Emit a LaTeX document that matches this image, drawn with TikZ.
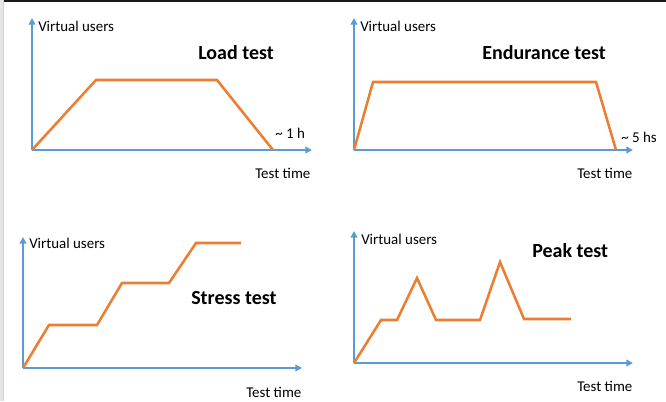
\documentclass[tikz,border=0pt]{standalone}
\usepackage{fontspec}
\setmainfont{Carlito}
\usetikzlibrary{arrows.meta}
\definecolor{axblue}{HTML}{5B9BD5}
\definecolor{curveorange}{HTML}{ED7D31}
\tikzset{
  axis/.style={draw=axblue, line width=1.6pt, -{Triangle[length=5pt,width=5pt]}},
  curve/.style={draw=curveorange, line width=1.9pt, line join=miter},
  lbl/.style={inner sep=0pt, anchor=west, font=\fontsize{11.2}{13}\selectfont},
  ttl/.style={inner sep=0pt, anchor=west, font=\fontsize{15}{18}\selectfont\bfseries},
}
\begin{document}
\begin{tikzpicture}[x=0.75pt,y=-0.75pt]
\useasboundingbox (0,0) rectangle (666,401);
\fill[white] (0,0) rectangle (666,401);
\fill[black!90] (3,0) rectangle (666,2);
\fill[black!10] (0,0) rectangle (3,401);
\draw[black!18, line width=0.5pt] (3,0) -- (3,401);

% ---------- Panel 1: Load test
\coordinate (o1) at (32,150);
\coordinate (y1) at (32,18);
\coordinate (x1) at (312,150);
\draw[axis] (o1) -- (y1);
\draw[axis] (o1) -- (x1);
\draw[curve] (o1) -- (96,80) -- (217,80) -- (273,150);
\node[lbl] (vu1) at (38,26) {Virtual users};
\node[ttl] (t1) at (198,53) {Load test};
\node[lbl] (d1) at (275,133) {\textasciitilde\ 1 h};
\node[lbl] (tt1) at (255,173) {Test time};

% ---------- Panel 2: Endurance test
\coordinate (o2) at (354,150);
\coordinate (y2) at (354,18);
\coordinate (x2) at (633,150);
\draw[axis] (o2) -- (y2);
\draw[axis] (o2) -- (x2);
\draw[curve] (o2) -- (373,82) -- (596,82) -- (616,150);
\node[lbl] (vu2) at (360,26) {Virtual users};
\node[ttl] (t2) at (482,53) {Endurance test};
\node[lbl] (d2) at (621,137) {\textasciitilde\ 5 hs};
\node[lbl] (tt2) at (577,173) {Test time};

% ---------- Panel 3: Stress test
\coordinate (o3) at (23,368);
\coordinate (y3) at (23,237);
\coordinate (x3) at (302,368);
\draw[axis] (o3) -- (y3);
\draw[axis] (o3) -- (x3);
\draw[curve] (o3) -- (49,325) -- (97,325) -- (122,283) -- (169,283) -- (196,243) -- (241,243);
\node[lbl] (vu3) at (29,243) {Virtual users};
\node[ttl] (t3) at (191,298) {Stress test};
\node[lbl] (tt3) at (246,392) {Test time};

% ---------- Panel 4: Peak test
\coordinate (o4) at (354,363);
\coordinate (y4) at (354,231);
\coordinate (x4) at (633,363);
\draw[axis] (o4) -- (y4);
\draw[axis] (o4) -- (x4);
\draw[curve] (o4) -- (381,320) -- (397,320) -- (417,278) -- (436,320) -- (480,320) -- (500,262) -- (524,319) -- (571,319);
\node[lbl] (vu4) at (361,239) {Virtual users};
\node[ttl] (t4) at (532,251) {Peak test};
\node[lbl] (tt4) at (577,386) {Test time};
\end{tikzpicture}
\end{document}
